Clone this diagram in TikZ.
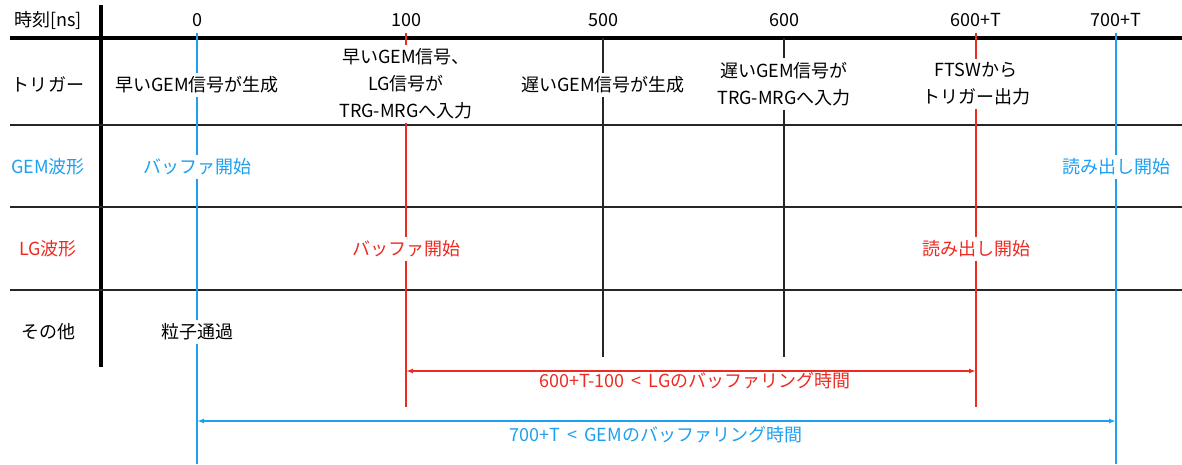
\documentclass[tikz,border=0pt]{standalone}
\usepackage{fontspec}
\setmainfont{Noto Sans CJK JP}
\usetikzlibrary{arrows.meta}
\usepackage{xcolor}
\definecolor{gemblue}{RGB}{30,160,240}
\definecolor{lgred}{RGB}{236,44,34}

\begin{document}
\begin{tikzpicture}[x=1pt,y=-1pt,
    txt/.style={font=\fontsize{18}{27}\selectfont, align=center, fill=white, inner sep=4pt},
    grid/.style={line width=1.4pt, black!85},
    span/.style={line width=1.4pt, {Latex[length=7pt,width=5pt]}-{Latex[length=7pt,width=5pt]}}]
    \useasboundingbox (0,0) rectangle (1182,464);

    % Table frame
    \draw[line width=4pt] (10,38) -- (1182,38);
    \draw[line width=4pt] (101,5) -- (101,367);
    \foreach \y in {125,207,290} {
        \draw[grid] (10,\y) -- (1182,\y);
    }

    % Time lines
    \draw[grid] (603,38) -- (603,357);
    \draw[grid] (784,38) -- (784,357);
    \draw[line width=1.4pt, lgred] (406,33) -- (406,407);
    \draw[line width=1.4pt, lgred] (976,33) -- (976,407);
    \draw[line width=1.4pt, gemblue] (197,33) -- (197,464);
    \draw[line width=1.4pt, gemblue] (1116,33) -- (1116,464);

    % Header
    \node[txt] (hdr) at (48,20) {時刻[ns]};
    \node[txt] (t0) at (197,20) {0};
    \node[txt] (t100) at (406,20) {100};
    \node[txt] (t500) at (603,20) {500};
    \node[txt] (t600) at (784,20) {600};
    \node[txt] (t600T) at (976,20) {600+T};
    \node[txt] (t700T) at (1116,20) {700+T};

    % Row labels
    \node[txt] (rowTrg) at (48,84) {トリガー};
    \node[txt, text=gemblue] (rowGem) at (48,167) {GEM波形};
    \node[txt, text=lgred] (rowLg) at (48,249) {LG波形};
    \node[txt] (rowOther) at (48,332) {その他};

    % Trigger row
    \node[txt] (trgEarly) at (197,85) {早いGEM信号が生成};
    \node[txt] (trgIn) at (406,84) {早いGEM信号、\\LG信号が\\TRG-MRGへ入力};
    \node[txt] (trgLate) at (603,85) {遅いGEM信号が生成};
    \node[txt] (trgLateIn) at (784,84) {遅いGEM信号が\\TRG-MRGへ入力};
    \node[txt] (trgOut) at (976,84) {FTSWから\\トリガー出力};

    % GEM row
    \node[txt, text=gemblue] (gemBuf) at (197,167) {バッファ開始};
    \node[txt, text=gemblue] (gemRead) at (1116,167) {読み出し開始};

    % LG row
    \node[txt, text=lgred] (lgBuf) at (406,249) {バッファ開始};
    \node[txt, text=lgred] (lgRead) at (976,249) {読み出し開始};

    % Other row
    \node[txt] (particle) at (197,332) {粒子通過};

    % Buffering times
    \coordinate (lgA) at (406,371);
    \coordinate (lgB) at (976,371);
    \coordinate (gemA) at (197,421);
    \coordinate (gemB) at (1116,421);
    \draw[span, lgred] (lgA) -- (lgB);
    \draw[span, gemblue] (gemA) -- (gemB);
    \node[txt, text=lgred, fill=none, inner sep=0pt] (lgTime) at (695,381) {600+T-100 \,<\, LGのバッファリング時間};
    \node[txt, text=gemblue, fill=none, inner sep=0pt] (gemTime) at (656,435) {700+T \,<\, GEMのバッファリング時間};
\end{tikzpicture}
\end{document}
